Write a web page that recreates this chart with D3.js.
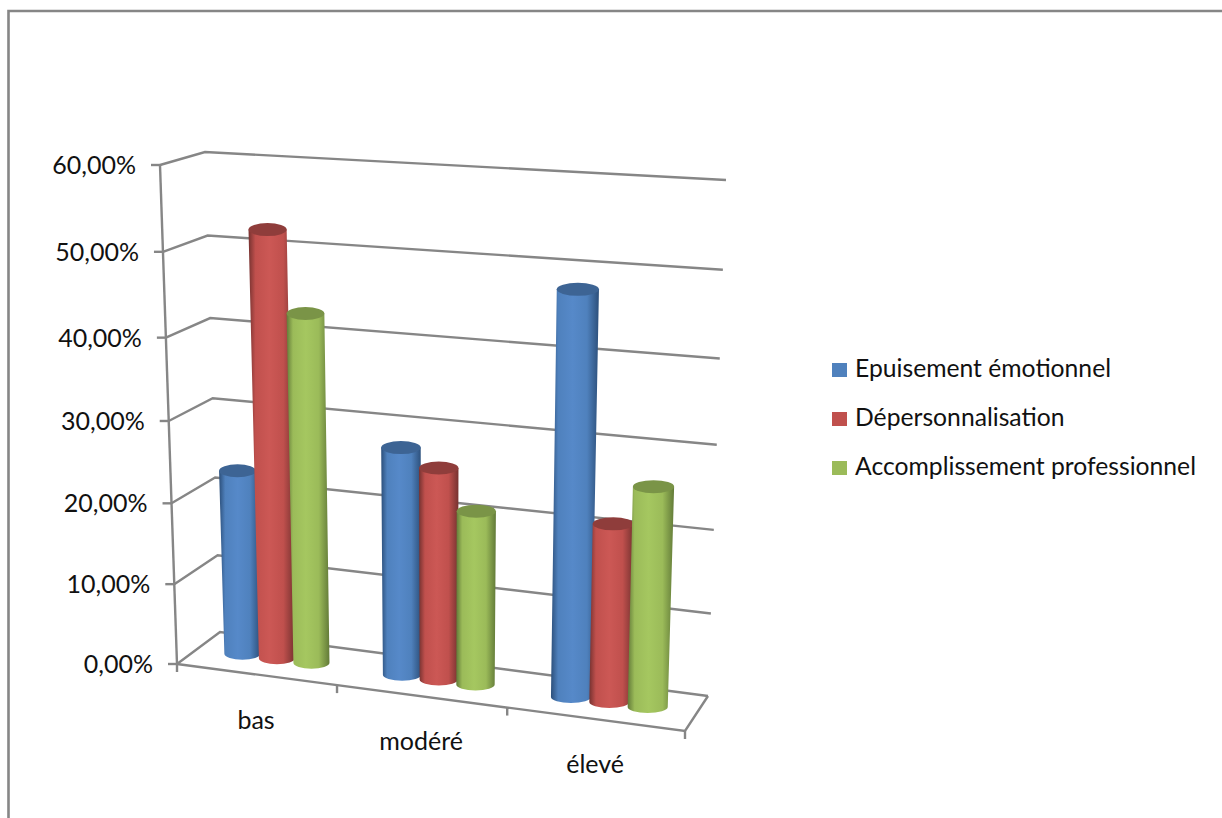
<!DOCTYPE html>
<html>
<head>
<meta charset="utf-8">
<script src="https://cdn.jsdelivr.net/npm/d3@7"></script>
<style>
html,body{margin:0;padding:0;background:#fff;overflow:hidden}
svg{display:block}
text{font-family:Lato,"Open Sans",sans-serif;fill:#111}
</style>
</head>
<body>
<svg id="chart" width="1222" height="818"></svg>
<script>
const categories = ["bas", "modéré", "élevé"];
const seriesNames = ["Epuisement émotionnel", "Dépersonnalisation", "Accomplissement professionnel"];
const epuisement = [0.23, 0.278, 0.479];
const depersonnalisation = [0.523, 0.258, 0.213];
const accomplissement = [0.428, 0.211, 0.261];
const tickValues = [0, 0.1, 0.2, 0.3, 0.4, 0.5, 0.6];
const tickLabels = ["0,00%", "10,00%", "20,00%", "30,00%", "40,00%", "50,00%", "60,00%"];

const seriesValues = [epuisement, depersonnalisation, accomplissement];
const palette = [
  {base: "#4f81bd", light: "#5689c9", edge: "#2c4f7a", cap: "#3d6494"},
  {base: "#c0504d", light: "#cc5855", edge: "#763230", cap: "#8f3d3b"},
  {base: "#9bbb59", light: "#a5c760", edge: "#627a38", cap: "#7a9447"}
];

// Corners of the 3D plot box: floor and top plane, front and back.
const box = {
  floor: {fl: [177, 664], fr: [685, 731], bl: [220, 632], br: [708, 696]},
  top:   {fl: [160, 165], fr: [701, 197], bl: [205, 152], br: [726, 180]}
};

// Foreshortening of both axes in the projected box.
const heightScale = d3.scaleLinear().domain(tickValues).range([0, 0.16, 0.322, 0.487, 0.654, 0.826, 1]);
const catScale = d3.scaleLinear().domain([0, 1, 2, 3]).range([0, 0.315, 0.65, 1]);

const mix = (a, b, t) => [a[0] + (b[0] - a[0]) * t, a[1] + (b[1] - a[1]) * t];
function project(u, depth, value) {
  const t = heightScale(value);
  const plane = k => mix(mix(box[k].fl, box[k].fr, u), mix(box[k].bl, box[k].br, u), depth);
  return mix(plane("floor"), plane("top"), t);
}

const svg = d3.select("#chart");
const defs = svg.append("defs");
const axisColor = "#868686";

// Frame around the chart area (top and left sides are visible).
svg.append("path").attr("d", "M8.5,818V11H1222").attr("fill", "none")
  .attr("stroke", axisColor).attr("stroke-width", 2.6);

// Walls and gridlines
const grid = svg.append("g").attr("fill", "none").attr("stroke", axisColor).attr("stroke-width", 2.4);
tickValues.forEach(v => {
  const a = project(0, 0, v), b = project(0, 1, v), c = project(1, 1, v);
  grid.append("path").attr("d", d3.line()([a, b, c]));
  grid.append("line").attr("x1", a[0] - 9).attr("x2", a[0]).attr("y1", a[1]).attr("y2", a[1]);
});
grid.append("path").attr("d", d3.line()([project(0, 0, 0.6), project(0, 0, 0)]));
grid.append("path").attr("d", d3.line()([project(0, 0, 0), project(1, 0, 0), project(1, 1, 0)]));
categories.concat("").forEach((_, i) => {
  const p = project(catScale(i), 0, 0);
  grid.append("line").attr("x1", p[0]).attr("x2", p[0]).attr("y1", p[1]).attr("y2", p[1] + 8);
});

// Value labels along the front axis
svg.append("g").selectAll("text").data(tickValues).join("text")
  .attr("x", d => project(0, 0, d)[0] - 24)
  .attr("y", d => project(0, 0, d)[1] + 9)
  .attr("text-anchor", "end").attr("font-size", 25)
  .text((d, i) => tickLabels[i]);

// Category labels under the floor
svg.append("g").selectAll("text").data(categories).join("text")
  .attr("x", (d, i) => project(catScale(i + 0.5), 0, 0)[0] - 1)
  .attr("y", (d, i) => project(catScale(i + 0.5), 0, 0)[1] + 54)
  .attr("text-anchor", "middle").attr("font-size", 25)
  .text(d => d);

// Cylinder shading
palette.forEach((c, i) => {
  const g = defs.append("linearGradient").attr("id", "cyl" + i);
  [[0, c.edge], [0.15, c.base], [0.45, c.light], [0.75, c.base], [1, c.edge]].forEach(s =>
    g.append("stop").attr("offset", s[0]).attr("stop-color", s[1]));
});

// Cylinders, drawn in series order so that later ones overlap earlier ones
const offset = d3.scaleBand().domain(d3.range(seriesNames.length)).range([0.17, 0.83]);
const halfWidth = 0.115;
const capRy = 6.5, baseRy = 6;
const bars = svg.append("g");
categories.forEach((cat, ci) => {
  seriesValues.forEach((vals, si) => {
    const centre = ci + offset(si) + offset.bandwidth() / 2;
    const edge = (du, v) => project(catScale(centre + du), 0.5, v);
    const v = vals[ci];
    const mid = edge(0, 0), midTop = edge(0, v);
    const bl = [edge(-halfWidth, 0)[0], mid[1]], br = [edge(halfWidth, 0)[0], mid[1]];
    const tl = [edge(-halfWidth, v)[0], midTop[1]], tr = [edge(halfWidth, v)[0], midTop[1]];
    const rx = (tr[0] - tl[0]) / 2;
    const rxb = (br[0] - bl[0]) / 2;
    bars.append("path")
      .attr("d", `M${tl}L${bl}A${rxb},${baseRy} 0 0 0 ${br}L${tr}Z`)
      .attr("fill", `url(#cyl${si})`);
    bars.append("ellipse")
      .attr("cx", (tl[0] + tr[0]) / 2).attr("cy", tl[1])
      .attr("rx", rx).attr("ry", capRy)
      .attr("fill", palette[si].cap);
  });
});

// Legend
const legendY = d3.scalePoint().domain(seriesNames).range([377, 475]);
const legend = svg.append("g");
seriesNames.forEach((name, i) => {
  legend.append("rect").attr("x", 832).attr("y", legendY(name) - 14)
    .attr("width", 15).attr("height", 14).attr("fill", palette[i].base);
  legend.append("text").attr("x", 855).attr("y", legendY(name))
    .attr("font-size", 24.7).text(name);
});
</script>
</body>
</html>
